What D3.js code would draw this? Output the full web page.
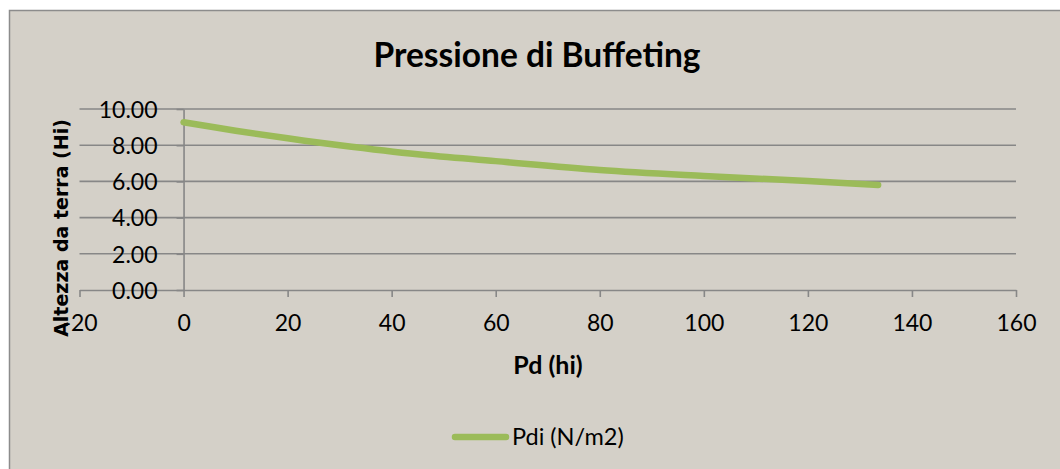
<!DOCTYPE html>
<html><head><meta charset="utf-8">
<script src="https://cdn.jsdelivr.net/npm/d3@7"></script>
<style>html,body{margin:0;padding:0;background:#fff;overflow:hidden}</style>
</head><body>
<svg id="c" width="1060" height="469"></svg>
<script>
const title = "Pressione di Buffeting";
const xTitle = "Pd (hi)";
const yTitle = "Altezza da terra (Hi)";
const seriesName = "Pdi (N/m2)";
const pdValues = [0, 10, 20, 30, 45, 60, 80, 100, 120, 133.5];
const heightValues = [9.27, 8.8, 8.38, 8.0, 7.5, 7.12, 6.63, 6.3, 6.02, 5.8];
const xTicks = [-20, 0, 20, 40, 60, 80, 100, 120, 140, 160];
const yTicks = [0, 2, 4, 6, 8, 10];

const svg = d3.select("#c");
const bg = "#D4D0C8", grid = "#878787", green = "#9BBB59";
svg.append("rect").attr("x", 9.5).attr("y", 10.5).attr("width", 1100).attr("height", 500)
  .attr("fill", bg).attr("stroke", "#8C8C8C").attr("stroke-width", 1.5);

const x = d3.scaleLinear().domain([-20, 160]).range([79.5, 1016]);
const y = d3.scaleLinear().domain([0, 10]).range([290, 109]);

// gridlines
svg.append("g").selectAll("line").data(yTicks.filter(d => d > 0)).join("line")
  .attr("x1", x(-20)).attr("x2", x(160)).attr("y1", d => y(d)).attr("y2", d => y(d))
  .attr("stroke", grid).attr("stroke-width", 1.6);

// x axis
const xAxis = svg.append("g").attr("transform", `translate(0,${y(0)})`)
  .call(d3.axisBottom(x).tickValues(xTicks).tickSize(7).tickSizeOuter(0)
    .tickFormat(d => d < 0 ? "-" + Math.abs(d) : String(d)));
xAxis.select(".domain").attr("stroke", grid).attr("stroke-width", 1.6);
xAxis.selectAll(".tick line").attr("stroke", grid).attr("stroke-width", 1.6);
xAxis.selectAll(".tick text").attr("font-family", "Lato").attr("font-size", 23)
  .attr("fill", "#000").attr("dy", 0).attr("y", 41);

// y axis at x=0
const yAxis = svg.append("g").attr("transform", `translate(${x(0)},0)`)
  .call(d3.axisLeft(y).tickValues(yTicks).tickSize(7).tickSizeOuter(0).tickFormat(d3.format(".2f")));
yAxis.select(".domain").attr("stroke", grid).attr("stroke-width", 1.6);
yAxis.selectAll(".tick line").attr("stroke", grid).attr("stroke-width", 1.6);
yAxis.selectAll(".tick text").attr("font-family", "Lato").attr("font-size", 23)
  .attr("fill", "#000").attr("x", -26).attr("dy", "0.36em");

// series line
const pts = pdValues.map((v, i) => [v, heightValues[i]]);
svg.append("path").datum(pts)
  .attr("d", d3.line().x(d => x(d[0])).y(d => y(d[1])).curve(d3.curveCatmullRom.alpha(0.5)))
  .attr("fill", "none").attr("stroke", green).attr("stroke-width", 6.5)
  .attr("stroke-linecap", "round").attr("stroke-linejoin", "round");

// title
svg.append("text").attr("x", 537).attr("y", 67).attr("text-anchor", "middle")
  .attr("font-family", "Lato").attr("font-weight", "bold").attr("font-size", 33.5)
  .attr("fill", "#000").text(title);

// axis titles
svg.append("text").attr("x", 548).attr("y", 374).attr("text-anchor", "middle")
  .attr("font-family", "Lato").attr("font-weight", "bold").attr("font-size", 25)
  .attr("fill", "#000").text(xTitle);
svg.append("text").attr("transform", "translate(68,228) rotate(-90)").attr("text-anchor", "middle")
  .attr("font-family", "DejaVu Sans").attr("font-weight", "bold").attr("font-size", 19)
  .attr("fill", "#000").text(yTitle);

// legend
svg.append("line").attr("x1", 455).attr("x2", 506).attr("y1", 437).attr("y2", 437)
  .attr("stroke", green).attr("stroke-width", 6.5).attr("stroke-linecap", "round");
svg.append("text").attr("x", 512).attr("y", 437).attr("dy", "0.36em")
  .attr("font-family", "Lato").attr("font-size", 23.5).attr("fill", "#000").text(seriesName);
</script>
</body></html>
